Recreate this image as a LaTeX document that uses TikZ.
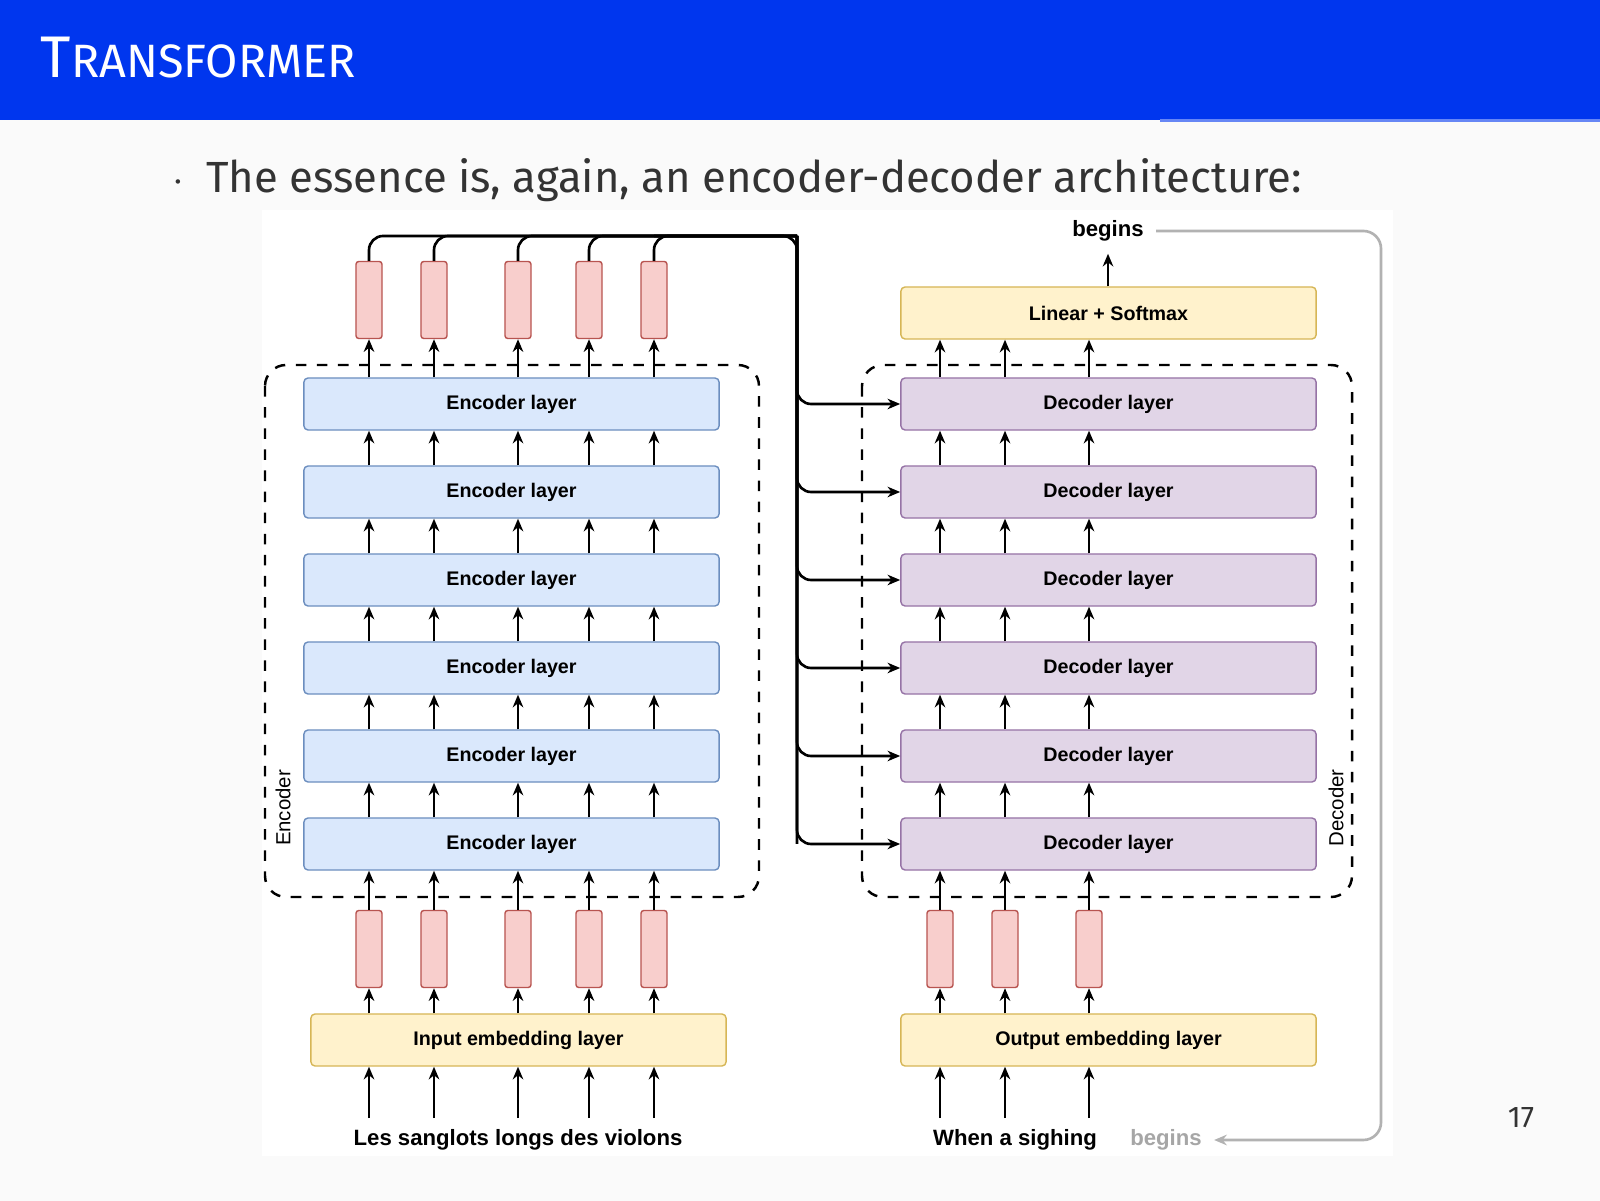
\documentclass[tikz,border=0pt]{standalone}
\usepackage{fontspec}
\setmainfont{Fira Sans}
\newfontfamily\diagfont{Liberation Sans}
\usetikzlibrary{arrows.meta}
\definecolor{barblue}{HTML}{0036EE}
\definecolor{encfill}{HTML}{DAE8FC}
\definecolor{encdraw}{HTML}{6C8EBF}
\definecolor{decfill}{HTML}{E1D5E7}
\definecolor{decdraw}{HTML}{9673A6}
\definecolor{embfill}{HTML}{FFF2CC}
\definecolor{embdraw}{HTML}{D6B656}
\definecolor{tokfill}{HTML}{F8CECC}
\definecolor{tokdraw}{HTML}{B85450}
\tikzset{
  layerbox/.style={draw=#1, fill=#1!40, rounded corners=1.2pt, minimum width=4.15cm,
    minimum height=0.52cm, line width=0.4pt, font=\diagfont\fontsize{5.6}{6}\selectfont\bfseries},
  token/.style={draw=tokdraw, fill=tokfill, rounded corners=0.8pt, minimum width=0.26cm,
    minimum height=0.77cm, inner sep=0pt, line width=0.4pt},
  arr/.style={-{Stealth[length=3.6pt,width=3pt]}, line width=0.75pt},
  word/.style={font=\diagfont\fontsize{6.3}{7}\selectfont\bfseries},
}
\begin{document}
\begin{tikzpicture}[x=0.01cm, y=-0.01cm]
  \useasboundingbox (0,0) rectangle (1600,1201);
  \fill[black!2] (0,0) rectangle (1600,1201);
  % title bar
  \fill[barblue] (0,0) rectangle (1600,120);
  \fill[barblue!60] (1160,119) rectangle (1600,122);
  \node[anchor=base west, text=white, inner sep=0pt] (title) at (40,78)
    {\fontsize{16.7}{17}\selectfont T\fontsize{13.3}{14}\selectfont RANSFORMER};
  \node[anchor=base west, inner sep=0pt, text=black!80] (bullet) at (172,193)
    {\fontsize{12.4}{14}\selectfont $\cdot$\enspace The essence is, again, an encoder-decoder architecture:};
  \node[anchor=base, inner sep=0pt, text=black!80] (page) at (1521,1127) {\fontsize{8.5}{10}\selectfont 17};
  \fill[white] (262,210) rectangle (1393,1156);

  % dashed frames
  \draw[dashed, line width=0.7pt, rounded corners=6pt] (265,365) rectangle (759,897);
  \draw[dashed, line width=0.7pt, rounded corners=6pt] (862,365) rectangle (1352,897);
  \node[rotate=90, font=\diagfont\fontsize{5.8}{6}\selectfont] (enclabel) at (283,808) {Encoder};
  \node[rotate=90, font=\diagfont\fontsize{5.8}{6}\selectfont] (declabel) at (1336,808) {Decoder};

  % columns
  \foreach \x [count=\i] in {369,434,518,589,654} \coordinate (ec\i) at (\x,0);
  \foreach \x [count=\i] in {940,1005,1089} \coordinate (dc\i) at (\x,0);
  \coordinate (rt) at (1381,0);

  % layers, from bottom (1) to top (6)
  \foreach \i in {1,...,6} {
    \node[layerbox=encdraw, fill=encfill] (enc\i) at (511.5,{932-88*\i}) {Encoder layer};
    \node[layerbox=decdraw, fill=decfill] (dec\i) at (1108.5,{932-88*\i}) {Decoder layer};
  }
  \node[layerbox=embdraw, fill=embfill] (inemb) at (518.5,1040) {Input embedding layer};
  \node[layerbox=embdraw, fill=embfill] (outemb) at (1108.5,1040) {Output embedding layer};
  \node[layerbox=embdraw, fill=embfill] (linear) at (1108.5,313) {Linear + Softmax};

  % encoder tokens and arrows
  \foreach \i in {1,...,5} {
    \node[token] (bt\i) at (ec\i |- 0,949) {};
    \node[token] (tt\i) at (ec\i |- 0,300) {};
    \draw[arr] (ec\i |- 0,1118) -- (inemb.south -| ec\i);
    \draw[arr] (inemb.north -| ec\i) -- (bt\i.south);
    \draw[arr] (bt\i.north) -- (enc1.south -| ec\i);
    \foreach \j [evaluate=\j as \k using int(\j+1)] in {1,...,5}
      \draw[arr] (enc\j.north -| ec\i) -- (enc\k.south -| ec\i);
    \draw[arr] (enc6.north -| ec\i) -- (tt\i.south);
    \draw[line width=0.75pt, rounded corners=4pt] (tt\i.north) |- (797,236);
  }
  \coordinate (busend) at (797,236);
  \draw[line width=0.75pt, rounded corners=4pt] (ec5 |- 0,236) -- (busend) -- (busend |- dec1.west);

  % decoder tokens and arrows
  \foreach \i in {1,...,3} {
    \node[token] (dt\i) at (dc\i |- 0,949) {};
    \draw[arr] (dc\i |- 0,1118) -- (outemb.south -| dc\i);
    \draw[arr] (outemb.north -| dc\i) -- (dt\i.south);
    \draw[arr] (dt\i.north) -- (dec1.south -| dc\i);
    \foreach \j [evaluate=\j as \k using int(\j+1)] in {1,...,5}
      \draw[arr] (dec\j.north -| dc\i) -- (dec\k.south -| dc\i);
    \draw[arr] (dec6.north -| dc\i) -- (linear.south -| dc\i);
  }
  % cross connections
  \foreach \i in {1,...,6}
    \draw[arr, rounded corners=4pt] (busend) -- (busend |- dec\i.west) -- (dec\i.west);

  % words
  \node[word] (src) at (518,1140) {Les sanglots longs des violons};
  \node[word] (tgt) at (1015,1140) {When a sighing};
  \node[word, text=black!35] (prev) at (1166,1140) {begins};
  \node[word] (out) at (1108,231) {begins};
  \draw[arr] (linear.north -| out) -- (out.south);
  \draw[-{Stealth[length=3.6pt,width=3pt]}, black!30, line width=0.75pt, rounded corners=5pt]
    (out.east) -| (rt |- prev.east) -- (prev.east);
\end{tikzpicture}
\end{document}
